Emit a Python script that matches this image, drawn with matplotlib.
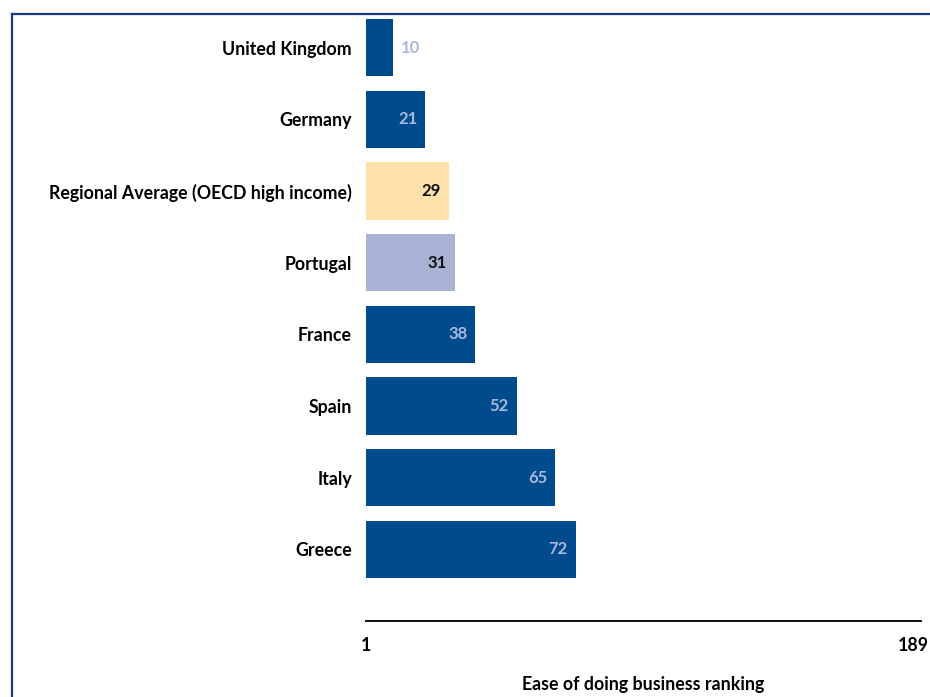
import matplotlib
matplotlib.use("Agg")
import matplotlib.pyplot as plt
from matplotlib.lines import Line2D

# data
countries = ["United Kingdom", "Germany", "Regional Average (OECD high income)",
             "Portugal", "France", "Spain", "Italy", "Greece"]
ranks = [10, 21, 29, 31, 38, 52, 65, 72]
rank_min = 1
rank_max = 189

DARK = "#004b8d"
bar_colors = [DARK, DARK, "#fde0aa", "#a7b2d4", DARK, DARK, DARK, DARK]
label_colors = ["#a9b8da", "#a9b8da", "#111111", "#111111", "#a9b8da", "#a9b8da", "#a9b8da", "#a9b8da"]

plt.rcParams['font.family'] = ['Lato', 'DejaVu Sans']
FS = 12.8

fig = plt.figure(figsize=(9.3, 6.97), dpi=100)
ax = fig.add_axes([366/930, 76/697, (921-366)/930, (683-76)/697])

ypos = list(range(len(countries)))
widths = [r - rank_min for r in ranks]
ax.barh(ypos, widths, left=rank_min, height=0.8, color=bar_colors)

for i, (r, c) in enumerate(zip(ranks, label_colors)):
    if r - rank_min < 15:
        # too short, put the number outside
        ax.annotate(str(r), (r, i), xytext=(6, 0), textcoords="offset points",
                    ha="left", va="center", fontsize=12, fontweight="bold", color=c)
    else:
        ax.annotate(str(r), (r, i), xytext=(-5.5, 0), textcoords="offset points",
                    ha="right", va="center", fontsize=12, fontweight="bold", color=c)

ax.set_xlim(rank_min, rank_max)
ax.set_ylim(8.0, -0.47)
ax.set_yticks(ypos)
ax.set_yticklabels(countries, fontsize=FS, fontweight="bold")
ax.tick_params(axis="y", length=0, pad=10)
ax.set_xticks([])

# end labels of the ranking scale
ax.annotate(str(rank_min), (rank_min, 0), xycoords=("data", "axes fraction"),
            xytext=(0, -25 / 1.389), textcoords="offset points",
            ha="center", va="center", fontsize=FS, fontweight="bold")
ax.annotate(str(rank_max), (rank_max, 0), xycoords=("data", "axes fraction"),
            xytext=(8 / 1.389, -25 / 1.389), textcoords="offset points",
            ha="right", va="center", fontsize=FS, fontweight="bold")
ax.annotate("Ease of doing business ranking", (0.5, 0), xycoords="axes fraction",
            xytext=(0, -64 / 1.389), textcoords="offset points",
            ha="center", va="center", fontsize=FS, fontweight="bold")

for s in ["top", "right", "left"]:
    ax.spines[s].set_visible(False)
ax.spines["bottom"].set_linewidth(1.4)
ax.spines["bottom"].set_color("#111111")

# frame lines (left and top) around the figure
fig.add_artist(Line2D([12/930, 12/930], [0, 1 - 14/697], color="#1c3a78", lw=1.6,
                      transform=fig.transFigure))
fig.add_artist(Line2D([12/930, 1], [1 - 14/697, 1 - 14/697], color="#1c3a78", lw=1.6,
                      transform=fig.transFigure))

fig.savefig("out.png", dpi=100)
